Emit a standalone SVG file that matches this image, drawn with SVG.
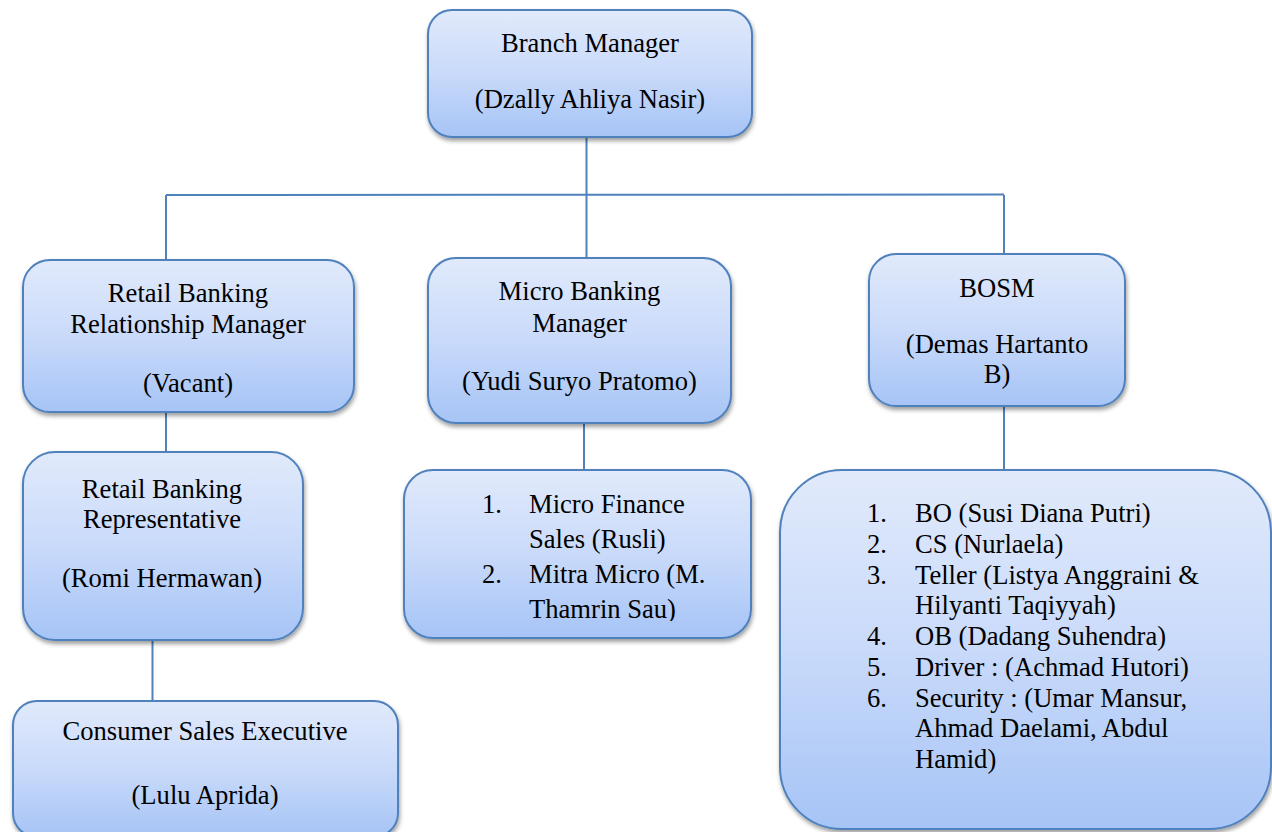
<svg xmlns="http://www.w3.org/2000/svg" width="1272" height="832" viewBox="0 0 1272 832">
  <defs>
    <linearGradient id="fillGrad" x1="0" y1="0" x2="0" y2="1">
      <stop offset="0" stop-color="#e1eafb"/>
      <stop offset="0.5" stop-color="#c9dafa"/>
      <stop offset="1" stop-color="#a6c4f6"/>
    </linearGradient>
    <filter id="shadow" x="-10%" y="-10%" width="120%" height="130%">
      <feDropShadow dx="1" dy="3" stdDeviation="2.2" flood-color="#000" flood-opacity="0.38"/>
    </filter>
    <clipPath id="microClip">
      <rect x="404" y="470" width="347" height="151"/>
    </clipPath>
  </defs>
  <style>
    .box { fill: url(#fillGrad); stroke: #4f81bd; stroke-width: 2; filter: url(#shadow); }
    .conn { stroke: #4f81bd; stroke-width: 2; fill: none; }
    text { font-family: "Liberation Serif", "Times New Roman", serif; font-size: 26.6px; fill: #000; }
    .c { text-anchor: middle; }
  </style>

  <g id="connectors">
    <line class="conn" x1="586.5" y1="137" x2="586.5" y2="195"/>
    <line class="conn" x1="166" y1="195" x2="1004" y2="194.5"/>
    <line class="conn" x1="166" y1="195" x2="166" y2="260"/>
    <line class="conn" x1="586.5" y1="195" x2="586.5" y2="258"/>
    <line class="conn" x1="1004" y1="195" x2="1004" y2="254"/>
    <line class="conn" x1="166" y1="412" x2="166" y2="452"/>
    <line class="conn" x1="152.5" y1="640" x2="152.5" y2="701"/>
    <line class="conn" x1="584" y1="423" x2="584" y2="470"/>
    <line class="conn" x1="1004" y1="406" x2="1004" y2="470"/>
  </g>

  <g id="branch-manager">
    <rect class="box" x="428" y="10" width="324" height="127" rx="24"/>
    <text class="c" x="590" y="52">Branch Manager</text>
    <text class="c" x="590" y="108">(Dzally Ahliya Nasir)</text>
  </g>

  <g id="retail-rm">
    <rect class="box" x="23" y="260" width="331" height="152" rx="27"/>
    <text class="c" x="188" y="302">Retail Banking</text>
    <text class="c" x="188" y="333">Relationship Manager</text>
    <text class="c" x="188" y="392">(Vacant)</text>
  </g>

  <g id="micro-manager">
    <rect class="box" x="428" y="258" width="303" height="165" rx="28"/>
    <text class="c" x="579.5" y="300">Micro Banking</text>
    <text class="c" x="579.5" y="332">Manager</text>
    <text class="c" x="579.5" y="390">(Yudi Suryo Pratomo)</text>
  </g>

  <g id="bosm">
    <rect class="box" x="869" y="254" width="256" height="152" rx="27"/>
    <text class="c" x="997" y="297">BOSM</text>
    <text class="c" x="997" y="353">(Demas Hartanto</text>
    <text class="c" x="997" y="383">B)</text>
  </g>

  <g id="retail-rep">
    <rect class="box" x="23" y="452" width="280" height="188" rx="32"/>
    <text class="c" x="162" y="498">Retail Banking</text>
    <text class="c" x="162" y="528">Representative</text>
    <text class="c" x="162" y="587">(Romi Hermawan)</text>
  </g>

  <g id="micro-staff">
    <rect class="box" x="404" y="470" width="347" height="168" rx="29"/>
    <g clip-path="url(#microClip)">
      <text x="482" y="513">1.</text>
      <text x="529" y="513">Micro Finance</text>
      <text x="529" y="548">Sales (Rusli)</text>
      <text x="482" y="583">2.</text>
      <text x="529" y="583">Mitra Micro (M.</text>
      <text x="529" y="618">Thamrin Sau)</text>
    </g>
  </g>

  <g id="bosm-staff">
    <rect class="box" x="780" y="470" width="491" height="359" rx="62"/>
    <text x="867" y="522">1.</text>
    <text x="915" y="522">BO (Susi Diana Putri)</text>
    <text x="867" y="553">2.</text>
    <text x="915" y="553">CS (Nurlaela)</text>
    <text x="867" y="584">3.</text>
    <text x="915" y="584">Teller (Listya Anggraini &amp;</text>
    <text x="915" y="614">Hilyanti Taqiyyah)</text>
    <text x="867" y="645">4.</text>
    <text x="915" y="645">OB (Dadang Suhendra)</text>
    <text x="867" y="676">5.</text>
    <text x="915" y="676">Driver : (Achmad Hutori)</text>
    <text x="867" y="707">6.</text>
    <text x="915" y="707">Security : (Umar Mansur,</text>
    <text x="915" y="737">Ahmad Daelami, Abdul</text>
    <text x="915" y="768">Hamid)</text>
  </g>

  <g id="consumer-sales">
    <rect class="box" x="13" y="701" width="385" height="136" rx="24"/>
    <text class="c" x="205" y="740">Consumer Sales Executive</text>
    <text class="c" x="205" y="804">(Lulu Aprida)</text>
  </g>
</svg>
